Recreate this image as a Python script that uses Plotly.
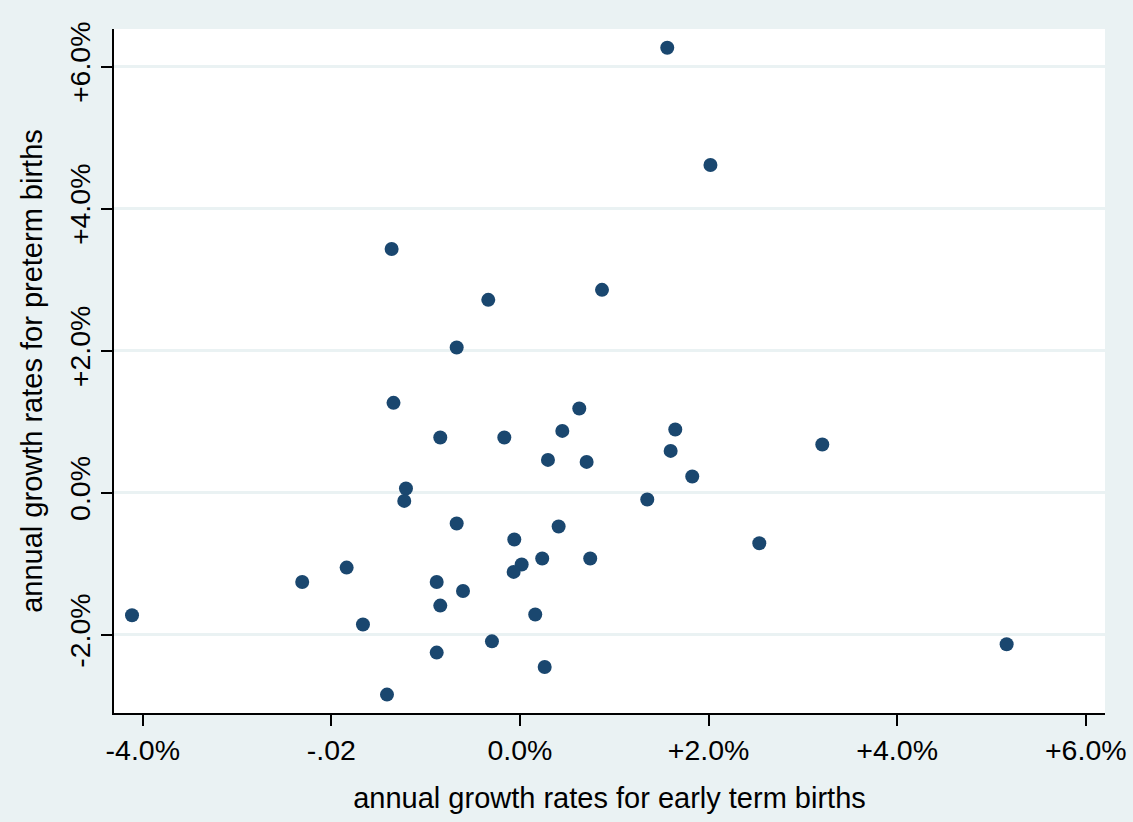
import plotly.graph_objects as go

# annual growth rates (fractions), early term births (x) vs preterm births (y)
early_term = [0.01562, 0.02020, -0.01361, -0.00336, 0.00870, -0.00671, -0.01341, 0.00629,
              -0.00845, -0.00166, 0.00449, 0.01647, 0.03206, 0.01598, 0.00297, 0.00707,
              0.01827, -0.01209, -0.01227, 0.01350, -0.00671, 0.00410, -0.00060, 0.02538,
              0.00236, 0.00745, 0.00018, -0.00067, -0.01838, -0.02309, -0.00883, -0.00604,
              -0.00845, -0.04114, 0.00162, -0.01665, -0.00297, 0.05161, -0.00883, 0.00262,
              -0.01410]
preterm = [0.06265, 0.04613, 0.03430, 0.02715, 0.02856, 0.02045, 0.01265, 0.01186,
           0.00777, 0.00777, 0.00870, 0.00890, 0.00679, 0.00589, 0.00462, 0.00434,
           0.00228, 0.00059, -0.00115, -0.00096, -0.00434, -0.00476, -0.00659, -0.00711,
           -0.00927, -0.00927, -0.01011, -0.01115, -0.01054, -0.01256, -0.01256, -0.01383,
           -0.01589, -0.01725, -0.01715, -0.01856, -0.02092, -0.02134, -0.02251, -0.02454,
           -0.02842]

x_tickvals = [-0.04, -0.02, 0.0, 0.02, 0.04, 0.06]
x_ticktext = ["-4.0%", "-.02", "0.0%", "+2.0%", "+4.0%", "+6.0%"]
y_tickvals = [-0.02, 0.0, 0.02, 0.04, 0.06]
y_ticktext = ["-2.0%", "0.0%", "+2.0%", "+4.0%", "+6.0%"]

x_title = "annual growth rates for early term births"
y_title = "annual growth rates for preterm births"

BG = "#EAF2F3"
NAVY = "#1A476F"
FONT = "Liberation Sans, Arial, sans-serif"

fig = go.Figure()
fig.add_trace(go.Scatter(
    x=early_term, y=preterm, mode="markers",
    marker=dict(color=NAVY, size=14, line=dict(width=0)),
    showlegend=False, hoverinfo="x+y",
))

fig.update_layout(
    width=1133, height=822,
    paper_bgcolor=BG, plot_bgcolor="white",
    margin=dict(l=114, r=28, t=29, b=109, pad=0),
    font=dict(family=FONT, color="black", size=28),
    xaxis=dict(
        range=[-0.04305, 0.06204], tickvals=x_tickvals, ticktext=x_ticktext,
        automargin=False,
        showgrid=False, zeroline=False,
        showline=True, linecolor="black", linewidth=2,
        ticks="outside", ticklen=11, tickwidth=1.5, tickcolor="black",
        tickfont=dict(size=28.5, family=FONT, color="black"),
        title=dict(text=x_title, font=dict(size=29, family=FONT, color="black"), standoff=22),
    ),
    yaxis=dict(
        range=[-0.03101, 0.06528], tickvals=y_tickvals, ticktext=y_ticktext,
        automargin=False,
        showgrid=True, gridcolor=BG, gridwidth=3, zeroline=False,
        showline=True, linecolor="black", linewidth=2,
        ticks="outside", ticklen=11, tickwidth=1.5, tickcolor="black",
        tickangle=-90,
        tickfont=dict(size=28.5, family=FONT, color="black"),
        title=dict(text=y_title, font=dict(size=29, family=FONT, color="black"), standoff=12),
    ),
)

fig.write_html("out.html", config={"displayModeBar": False},
               post_script="document.body.style.margin='0';")
